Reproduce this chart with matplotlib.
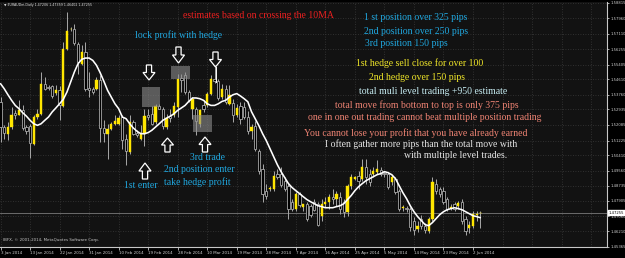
import matplotlib
matplotlib.use('Agg')
import matplotlib.pyplot as plt
from matplotlib.patches import Rectangle, Polygon
from matplotlib.transforms import blended_transform_factory
import numpy as np

# ---------------- data (EURAUDm, Daily) ----------------
opens = [1.5335,1.5197,1.5160,1.5197,1.5274,1.5265,1.5289,1.5197,1.5203,1.5105,
         1.5252,1.5270,1.5432,1.5415,1.5421,1.5386,1.5399,1.5313,1.5629,1.5735,
         1.5739,1.5656,1.5546,1.5610,1.5412,1.5408,1.5404,1.5458,1.5191,1.5160,
         1.5188,1.5215,1.5215,1.5252,1.5133,1.5059,1.5224,1.5164,1.5129,1.5160,
         1.5261,1.5267,1.5224,1.5311,1.5298,1.5197,1.5257,1.5261,1.5307,1.5469,
         1.5482,1.5390,1.5298,1.5298,1.5215,1.5316,1.5316,1.5381,1.5463,1.5449,
         1.5362,1.5404,1.5325,1.5331,1.5261,1.5313,1.5309,1.5254,1.5177,1.5204,
         1.5066,1.4967,1.4846,1.4857,1.4857,1.4940,1.4940,1.4901,1.4874,1.4785,
         1.4747,1.4830,1.4758,1.4774,1.4763,1.4785,1.4774,1.4708,1.4774,1.4785,
         1.4813,1.4802,1.4813,1.4785,1.4730,1.4874,1.4912,1.4929,1.4912,1.4979,
         1.4940,1.4940,1.4951,1.4962,1.4945,1.4940,1.4896,1.4912,1.4846,1.4752,
         1.4752,1.4747,1.4681,1.4637,1.4692,1.4653,1.4626,1.4692,1.4885,1.4857,
         1.4846,1.4802,1.4752,1.4774,1.4763,1.4785,1.4692,1.4642,1.4653,1.4714,
         1.47206]
highs = [1.5362,1.5206,1.5224,1.5307,1.5289,1.5344,1.5316,1.5206,1.5215,1.5261,
         1.5298,1.5500,1.5472,1.5430,1.5430,1.5427,1.5423,1.5665,1.5831,1.5748,
         1.5766,1.5665,1.5647,1.5665,1.5500,1.5417,1.5472,1.5482,1.5234,1.5215,
         1.5224,1.5261,1.5261,1.5261,1.5160,1.5261,1.5234,1.5179,1.5206,1.5298,
         1.5298,1.5313,1.5325,1.5325,1.5307,1.5270,1.5298,1.5335,1.5491,1.5491,
         1.5500,1.5399,1.5362,1.5307,1.5298,1.5344,1.5390,1.5482,1.5537,1.5460,
         1.5436,1.5427,1.5427,1.5353,1.5325,1.5335,1.5336,1.5287,1.5215,1.5232,
         1.5078,1.4995,1.4885,1.4874,1.4956,1.4967,1.4979,1.4923,1.4885,1.4802,
         1.4841,1.4841,1.4774,1.4785,1.4774,1.4802,1.4785,1.4802,1.4813,1.4830,
         1.4857,1.4846,1.4841,1.4802,1.4885,1.4940,1.4929,1.4956,1.5022,1.5022,
         1.4967,1.4979,1.5017,1.4979,1.4956,1.4951,1.4934,1.4923,1.4857,1.4769,
         1.4763,1.4758,1.4703,1.4681,1.4714,1.4670,1.4703,1.4923,1.4912,1.4868,
         1.4868,1.4813,1.4774,1.4785,1.4791,1.4802,1.4708,1.4681,1.4736,1.4736,
         1.47359]
lows = [1.5114,1.5133,1.5123,1.5188,1.5243,1.5261,1.5179,1.5160,1.5026,1.5096,
        1.5243,1.5265,1.5399,1.5399,1.5357,1.5371,1.5234,1.5307,1.5619,1.5724,
        1.5647,1.5491,1.5537,1.5393,1.5362,1.5381,1.5399,1.5114,1.5114,1.5022,
        1.5179,1.5206,1.5206,1.5078,1.4989,1.5050,1.5151,1.5142,1.5123,1.5092,
        1.5234,1.5206,1.5215,1.5294,1.5188,1.5188,1.5224,1.5252,1.5252,1.5390,
        1.5381,1.5335,1.5243,1.5151,1.5197,1.5279,1.5307,1.5375,1.5441,1.5344,
        1.5353,1.5325,1.5316,1.5224,1.5252,1.5215,1.5243,1.5160,1.5133,1.5066,
        1.4940,1.4785,1.4802,1.4846,1.4846,1.4912,1.4868,1.4846,1.4692,1.4736,
        1.4736,1.4758,1.4736,1.4681,1.4703,1.4736,1.4653,1.4681,1.4758,1.4747,
        1.4774,1.4763,1.4719,1.4703,1.4708,1.4857,1.4907,1.4857,1.4901,1.4885,
        1.4874,1.4923,1.4940,1.4929,1.4923,1.4857,1.4879,1.4830,1.4736,1.4736,
        1.4730,1.4626,1.4604,1.4620,1.4637,1.4615,1.4615,1.4681,1.4830,1.4813,
        1.4774,1.4736,1.4741,1.4736,1.4747,1.4664,1.4604,1.4615,1.4642,1.4681,
        1.46402]
closes = [1.5197,1.5166,1.5197,1.5265,1.5261,1.5289,1.5191,1.5173,1.5109,1.5252,
          1.5270,1.5432,1.5408,1.5412,1.5368,1.5403,1.5320,1.5625,1.5726,1.5739,
          1.5660,1.5555,1.5610,1.5408,1.5403,1.5390,1.5454,1.5191,1.5166,1.5188,
          1.5215,1.5228,1.5248,1.5127,1.5063,1.5224,1.5160,1.5151,1.5164,1.5257,
          1.5252,1.5215,1.5313,1.5298,1.5203,1.5246,1.5246,1.5313,1.5463,1.5458,
          1.5390,1.5344,1.5349,1.5228,1.5289,1.5298,1.5377,1.5460,1.5449,1.5357,
          1.5404,1.5335,1.5375,1.5261,1.5302,1.5243,1.5254,1.5177,1.5199,1.5078,
          1.4956,1.4830,1.4819,1.4863,1.4929,1.4923,1.4879,1.4857,1.4747,1.4747,
          1.4830,1.4769,1.4774,1.4692,1.4714,1.4741,1.4659,1.4774,1.4785,1.4813,
          1.4802,1.4830,1.4747,1.4730,1.4874,1.4923,1.4923,1.4901,1.4979,1.4923,
          1.4896,1.4956,1.4967,1.4940,1.4940,1.4868,1.4923,1.4841,1.4747,1.4758,
          1.4747,1.4648,1.4631,1.4653,1.4653,1.4631,1.4692,1.4896,1.4846,1.4830,
          1.4785,1.4747,1.4758,1.4747,1.4780,1.4681,1.4626,1.4659,1.4719,1.4719,
          1.47255]
ma10 = [1.5436,1.5408,1.5375,1.5344,1.5316,1.5298,1.5276,1.5257,1.5234,1.5215,
        1.5206,1.5215,1.5234,1.5252,1.5280,1.5302,1.5325,1.5349,1.5390,1.5445,
        1.5500,1.5546,1.5570,1.5577,1.5577,1.5564,1.5537,1.5496,1.5449,1.5399,
        1.5362,1.5325,1.5298,1.5252,1.5243,1.5215,1.5191,1.5173,1.5160,1.5160,
        1.5166,1.5179,1.5197,1.5215,1.5234,1.5246,1.5257,1.5270,1.5289,1.5302,
        1.5316,1.5338,1.5357,1.5357,1.5353,1.5344,1.5325,1.5316,1.5316,1.5325,
        1.5338,1.5344,1.5362,1.5375,1.5381,1.5368,1.5353,1.5336,1.5281,1.5243,
        1.5204,1.5160,1.5122,1.5078,1.5033,1.4989,1.4951,1.4918,1.4885,1.4863,
        1.4846,1.4830,1.4813,1.4797,1.4785,1.4774,1.4763,1.4758,1.4752,1.4752,
        1.4752,1.4758,1.4763,1.4774,1.4797,1.4819,1.4846,1.4868,1.4885,1.4901,
        1.4912,1.4923,1.4934,1.4940,1.4951,1.4945,1.4934,1.4912,1.4874,1.4835,
        1.4802,1.4763,1.4730,1.4703,1.4681,1.4659,1.4653,1.4670,1.4692,1.4714,
        1.4730,1.4741,1.4747,1.4752,1.4747,1.4741,1.4730,1.4719,1.4708,1.4703,
        1.4697]

date_labels = ['3 Jan 2014', '13 Jan 2014', '22 Jan 2014', '31 Jan 2014', '10 Feb 2014',
               '19 Feb 2014', '28 Feb 2014', '10 Mar 2014', '19 Mar 2014', '28 Mar 2014',
               '7 Apr 2014', '16 Apr 2014', '25 Apr 2014', '5 May 2014', '14 May 2014',
               '23 May 2014', '2 Jun 2014']
price_labels = ['1.58815', '1.57960', '1.57110', '1.56255', '1.55405', '1.54610', '1.53760',
                '1.52935', '1.52085', '1.51225', '1.50410', '1.49560', '1.48735', '1.47905',
                '1.47060', '1.46210', '1.45365']
last_price = 1.47255
header = '\u25bc EURAUDm,Daily 1.47206 1.47359 1.46402 1.47255'
copyright_txt = 'IBFX, \u00a9 2001-2014, MetaQuotes Software Corp.'

# ---------------- figure ----------------
W, H = 625, 258
fig = plt.figure(figsize=(W / 100, H / 100), dpi=100)
fig.patch.set_facecolor('#000000')

ax = fig.add_axes([0 / W, (H - 247) / H, 607 / W, (247 - 2) / H])
ax.set_facecolor('#121212')
label_step = 8

o = np.array(opens); hi = np.array(highs); lo = np.array(lows); c = np.array(closes)
idx = np.arange(len(o))
up = c >= o
bb = np.minimum(o, c)
bh = np.maximum(np.abs(c - o), 0.00022)

ax.set_xlim(-0.14, 164.3)
ax.set_ylim(1.45355, 1.58860)

# grid
pvals = [float(s) for s in price_labels]
for v in pvals:
    ax.axhline(v, color='#3a3a3a', lw=0.6, ls=(0, (1, 2)), zorder=1)
for k in range(0, 165, label_step):
    ax.axvline(k, color='#3a3a3a', lw=0.6, ls=(0, (1, 2)), zorder=1)

ax.axhline(last_price, color='#7a7a7a', lw=0.6, zorder=2)

ax.vlines(idx, lo, hi, colors='#a8a8a8', lw=0.7, zorder=3)
ax.bar(idx[up], bh[up], bottom=bb[up], width=0.62, color='#ffe600',
       edgecolor='#ffe600', lw=0.3, zorder=4)
ax.bar(idx[~up], bh[~up], bottom=bb[~up], width=0.62, color='#000000',
       edgecolor='#a8a8a8', lw=0.6, zorder=4)
ax.plot(idx, ma10, color='white', lw=1.15, zorder=5, solid_capstyle='round')

# axes styling
for s in ['top', 'left']:
    ax.spines[s].set_visible(False)
for s in ['right', 'bottom']:
    ax.spines[s].set_color('#c8c8c8')
    ax.spines[s].set_linewidth(0.8)

tick_fs = 2.7
ax.yaxis.tick_right()
ax.set_yticks(pvals)
ax.set_yticklabels(price_labels, fontsize=tick_fs, color='#d0d0d0')
ax.tick_params(axis='y', length=1.6, width=0.6, color='#c8c8c8', pad=0.6)

ax.set_xticks([label_step * i for i in range(len(date_labels))])
ax.set_xticklabels(date_labels, fontsize=2.9, color='#d0d0d0', ha='left')
ax.tick_params(axis='x', length=2.0, width=0.6, color='#c8c8c8', pad=1.2)

tr = blended_transform_factory(ax.transAxes, ax.transData)
ax.text(1.003, last_price, f'{last_price:.5f}', transform=tr, ha='left', va='center',
        fontsize=tick_fs, color='black', zorder=10,
        bbox=dict(facecolor='white', edgecolor='white', pad=0.3), clip_on=False)

# ---------------- annotation overlay (pixel space) ----------------
ov = fig.add_axes([0, 0, 1, 1], facecolor='none')
ov.set_xlim(0, W)
ov.set_ylim(H, 0)
ov.axis('off')

ov.text(4, 5, header, fontsize=2.3, color='#e0e0e0', ha='left', va='center',
        family=['DejaVu Sans'])
ov.text(3, 240, copyright_txt, fontsize=2.9, color='#c8c8c8', ha='left', va='center')

# gray boxes
for (x0, y0, x1, y1) in [(142, 87, 160, 107), (171, 66, 190, 79), (193, 115, 212, 132)]:
    ov.add_patch(Rectangle((x0, y0), x1 - x0, y1 - y0, facecolor='#8c8c8c',
                           edgecolor='none', alpha=0.6, zorder=3))

def block_arrow(cx, y0, y1, down=True):
    L = y1 - y0
    sw, hw = 2.6, 6.0
    if down:
        pts = [(cx - sw, y0), (cx + sw, y0), (cx + sw, y0 + 0.5 * L), (cx + hw, y0 + 0.5 * L),
               (cx, y1), (cx - hw, y0 + 0.5 * L), (cx - sw, y0 + 0.5 * L)]
    else:
        pts = [(cx - sw, y1), (cx + sw, y1), (cx + sw, y1 - 0.5 * L), (cx + hw, y1 - 0.5 * L),
               (cx, y0), (cx - hw, y1 - 0.5 * L), (cx - sw, y1 - 0.5 * L)]
    ov.add_patch(Polygon(pts, closed=True, facecolor='none', edgecolor='white', lw=0.9, zorder=4))

block_arrow(149, 65, 80, True)
block_arrow(178.5, 47, 63, True)
block_arrow(215.5, 52, 67, True)
ov.plot([215.5, 215.5], [67, 82], color='white', lw=0.7, zorder=4)
block_arrow(145, 163, 179, False)
block_arrow(167.5, 138, 152, False)
block_arrow(205, 137, 152, False)

fam = ['Liberation Serif', 'DejaVu Serif']
cyan = '#20a8e0'
red = '#ee2020'
yel = '#f0e628'
pale = '#c8eef4'
salmon = '#f08474'
white = '#e6e6e6'
notes = [
    ('estimates based on crossing the 10MA', 258, 16, red),
    ('lock profit with hedge', 179, 35, cyan),
    ('1 st position over 325 pips', 416, 17, cyan),
    ('2nd position over 250 pips', 416, 32, cyan),
    ('3rd position 150 pips', 406, 43, cyan),
    ('1st hedge sell close for over 100', 420, 63, yel),
    ('2nd hedge over 150 pips', 417, 78, yel),
    ('total muli level trading +950 estimate', 433, 92, pale),
    ('total move from bottom to top is only 375 pips', 427, 105, salmon),
    ('one in one out trading cannot beat multiple position trading', 425, 117, salmon),
    ('You cannot lose your profit that you have already earned', 416, 133, salmon),
    ('I often gather more pips than the total move with', 421, 144, white),
    ('with multiple level trades.', 456, 155, white),
    ('3rd trade', 208, 157, cyan),
    ('2nd position enter', 199, 170, cyan),
    ('take hedge profit', 197, 182, cyan),
    ('1st enter', 141, 186, cyan),
]
for txt, x, y, col in notes:
    ov.text(x, y, txt, fontsize=7.0, color=col, ha='center', va='center', family=fam, zorder=6)

fig.savefig('out.png', dpi=100, facecolor=fig.get_facecolor())
